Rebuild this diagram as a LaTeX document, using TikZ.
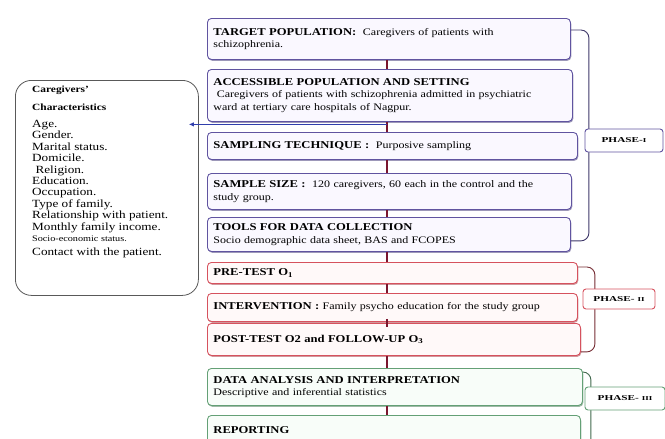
\documentclass[tikz,border=0pt]{standalone}
\usepackage{fontspec}
\setmainfont[FakeStretch=1.2]{Liberation Serif}
\newfontfamily\phasefont[FakeStretch=1.5]{Liberation Serif}
\usetikzlibrary{arrows.meta,shadows}

\definecolor{phaseonecol}{RGB}{96,84,160}
\definecolor{phaseonefill}{RGB}{250,248,255}
\definecolor{phasetwocol}{RGB}{214,82,94}
\definecolor{phasetwofill}{RGB}{255,249,249}
\definecolor{phasethreecol}{RGB}{100,160,118}
\definecolor{phasethreefill}{RGB}{248,253,249}
\definecolor{linkcol}{RGB}{122,22,46}
\definecolor{feedcol}{RGB}{48,62,172}

\newcommand{\stagehead}[1]{{\fontsize{10.5}{12.5}\selectfont\bfseries #1}}
\newcommand{\romsmall}[1]{{\fontsize{6}{6}\selectfont #1}}

\begin{document}
\begin{tikzpicture}[
    x=1pt,
    y=-1pt,
    >={Latex[length=5pt,width=4.5pt]},
    stage/.style={draw, rounded corners=4pt, anchor=north west, align=left, inner xsep=6pt, inner ysep=1pt, line width=0.9pt, font=\fontsize{10}{12.5}\selectfont},
    stageone/.style={stage, draw=phaseonecol, fill=phaseonefill, drop shadow={shadow xshift=0.8pt, shadow yshift=-1.4pt, opacity=0.55, fill=phaseonecol!80!black}},
    stagetwo/.style={stage, draw=phasetwocol, fill=phasetwofill, drop shadow={shadow xshift=0.8pt, shadow yshift=-1.4pt, opacity=0.55, fill=phasetwocol!80!black}},
    stagethree/.style={stage, draw=phasethreecol, fill=phasethreefill, drop shadow={shadow xshift=0.8pt, shadow yshift=-1.4pt, opacity=0.55, fill=phasethreecol!80!black}},
    phasebox/.style={draw, fill=white, rounded corners=3pt, line width=0.9pt, inner sep=1pt, font=\phasefont\bfseries\fontsize{7.5}{9}\selectfont},
    brace/.style={line width=0.9pt, rounded corners=8pt},
    link/.style={draw=linkcol, line width=2.2pt},
    feed/.style={->, draw=feedcol, line width=1.7pt}
]
\useasboundingbox (0,0) rectangle (665,439);

% caregivers' characteristics
\node[draw=black!65, rounded corners=16pt, line width=0.8pt, anchor=north west, minimum width=183pt, minimum height=215pt, fill=white] (carebox) at (15,80) {};
\node[anchor=north west, align=left, inner sep=0pt, font=\fontsize{11}{11.4}\selectfont] (carelist) at (32,86) {%
{\bfseries\fontsize{9.5}{11}\selectfont Caregivers'}\\[6pt]
{\bfseries\fontsize{9.5}{11}\selectfont Characteristics}\\[6pt]
Age.\\
Gender.\\
Marital status.\\
Domicile.\\
\ Religion.\\
Education.\\
Occupation.\\
Type of family.\\
Relationship with patient.\\
Monthly family income.\\
{\fontsize{8.5}{9}\selectfont Socio-economic status.}\\[3pt]
Contact with the patient.};

% phase I
\node[stageone, text width=351pt, minimum height=41pt] (target) at (207,18) {\stagehead{TARGET POPULATION:}\ \ Caregivers of patients with\\schizophrenia.};
\node[stageone, text width=353pt, minimum height=52pt] (access) at (207,69) {\stagehead{ACCESSIBLE POPULATION AND SETTING}\\\ Caregivers of patients with schizophrenia admitted in psychiatric\\ward at tertiary care hospitals of Nagpur.};
\node[stageone, text width=358pt, minimum height=27pt] (technique) at (207,132) {\stagehead{SAMPLING TECHNIQUE :}\ \ Purposive sampling};
\node[stageone, text width=352pt, minimum height=36pt] (size) at (207,173) {\stagehead{SAMPLE SIZE :}\ \ 120 caregivers, 60 each in the control and the\\study group.};
\node[stageone, text width=351pt, minimum height=34pt] (tools) at (207,217) {\stagehead{TOOLS FOR DATA COLLECTION}\\Socio demographic data sheet, BAS and FCOPES};

% phase II
\node[stagetwo, text width=358pt, minimum height=21pt] (pretest) at (207,262) {\stagehead{PRE-TEST O\textsubscript{1}}};
\node[stagetwo, text width=358pt, minimum height=28pt] (interv) at (207,293) {\stagehead{INTERVENTION :}\ Family psycho education for the study group};
\node[stagetwo, text width=361pt, minimum height=32pt] (posttest) at (207,323) {\stagehead{POST-TEST O2 and FOLLOW-UP O\textsubscript{3}}};

% phase III
\node[stagethree, text width=363pt, minimum height=37pt] (analysis) at (207,368) {\stagehead{DATA ANALYSIS AND INTERPRETATION}\\Descriptive and inferential statistics};
\node[stagethree, text width=361pt, minimum height=30pt] (reporting) at (207,415) {\stagehead{REPORTING}};

% flow
\draw[link] ([xshift=180pt]target.south west) -- ([xshift=180pt]access.north west);
\draw[link] ([xshift=180pt]access.south west) -- ([xshift=180pt]technique.north west);
\draw[link] ([xshift=180pt]technique.south west) -- ([xshift=180pt]size.north west);
\draw[link] ([xshift=180pt]size.south west) -- ([xshift=180pt]tools.north west);
\draw[link] ([xshift=180pt]tools.south west) -- ([xshift=180pt]pretest.north west);
\draw[link] ([xshift=180pt]pretest.south west) -- ([xshift=180pt]interv.north west);
\draw[link] ([xshift=180pt,yshift=3pt]interv.south west) -- ([xshift=180pt,yshift=-4pt]posttest.north west);
\draw[link] ([xshift=180pt]posttest.south west) -- ([xshift=180pt]analysis.north west);
\draw[link] ([xshift=180pt]analysis.south west) -- ([xshift=180pt]reporting.north west);

\coordinate (split) at ([xshift=180pt,yshift=-2.5pt]access.south west);
\draw[feed, shorten >=-10pt] (split) -- (split -| carebox.east);

% phase brackets
\draw[brace, draw=phaseonecol!65!black] ([yshift=-12pt]target.north east) -- ++(18,0) |- ([yshift=11pt]tools.south east);
\draw[brace, draw=phasetwocol!55!black] ([yshift=-5pt]pretest.north east) -- ++(17,0) |- ([yshift=4pt]posttest.south east);
\draw[brace, draw=phasethreecol!65!black] ([yshift=-4pt]analysis.north east) -- ++(8,0) -- ++(0,75);

\node[phasebox, draw=phaseonecol, minimum width=78pt, minimum height=23pt] (phaseone) at (624,140.5) {PHASE-\romsmall{I}};
\node[phasebox, draw=phasetwocol, minimum width=72pt, minimum height=20pt] (phasetwo) at (619,299) {PHASE- \romsmall{II}};
\node[phasebox, draw=phasethreecol, minimum width=80pt, minimum height=23pt] (phasethree) at (625,398.5) {PHASE- \romsmall{III}};
\end{tikzpicture}
\end{document}
